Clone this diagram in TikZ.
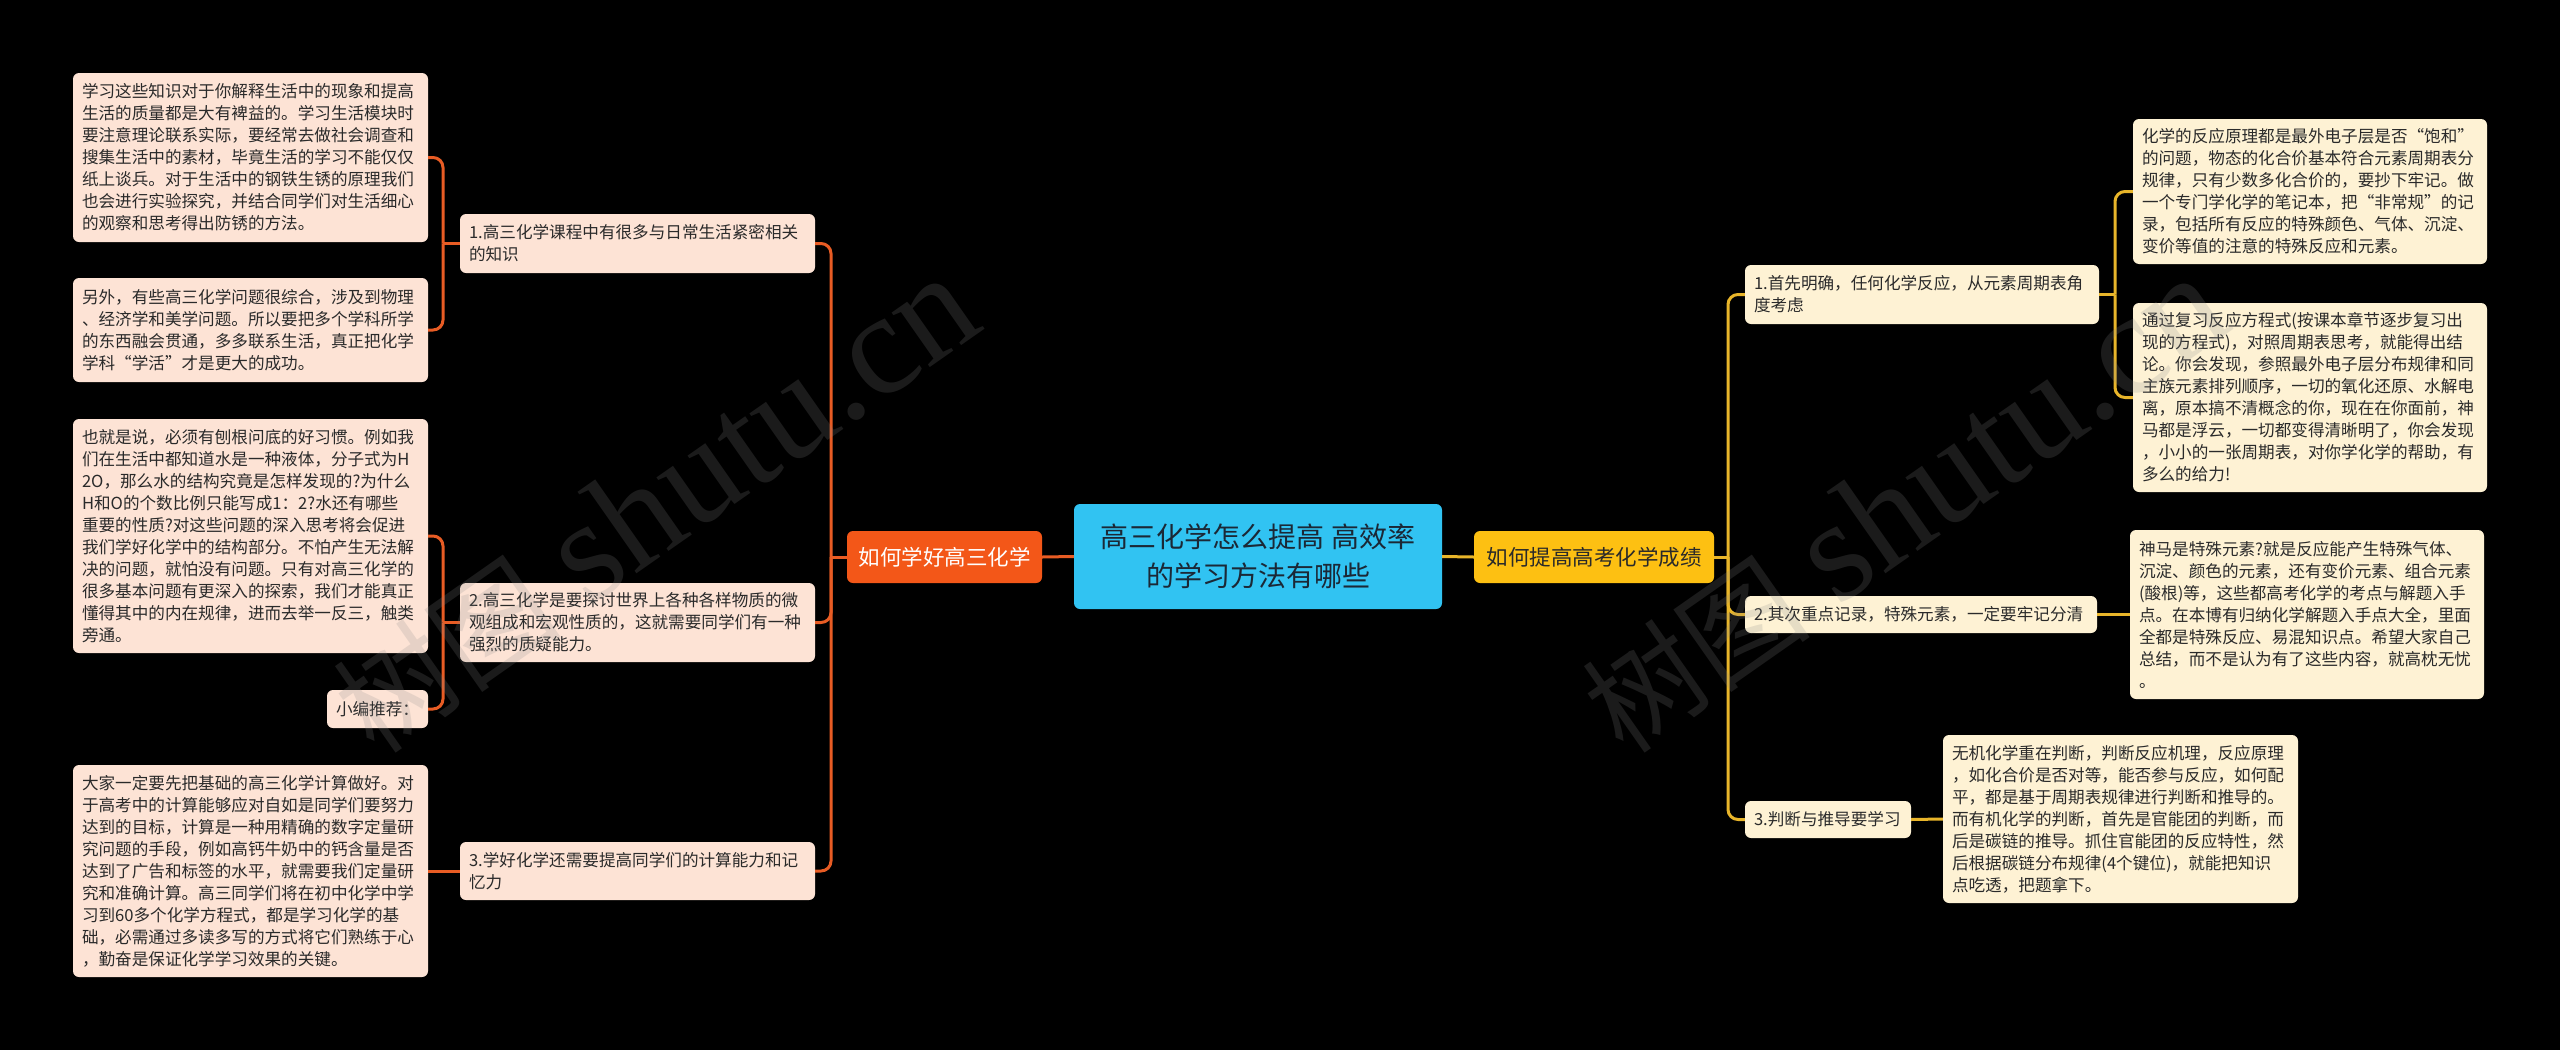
\documentclass[tikz,border=0pt]{standalone}
\usepackage{fontspec}
\setmainfont{Noto Sans CJK SC}
\newfontfamily\wmserif{Liberation Serif}
\definecolor{bgc}{HTML}{000000}
\definecolor{cfill}{HTML}{31C3F2}
\definecolor{ctext}{HTML}{1B2836}
\definecolor{lmfill}{HTML}{F35718}
\definecolor{rmfill}{HTML}{FDC012}
\definecolor{lfill}{HTML}{FDE3D5}
\definecolor{rfill}{HTML}{FEF2D4}
\definecolor{btext}{HTML}{2A2A2A}
\definecolor{lline}{HTML}{E85C24}
\definecolor{rline}{HTML}{E8B52A}
\definecolor{wmc}{HTML}{8A8A8A}
\tikzset{
  basebox/.style={rectangle, rounded corners=6pt, inner xsep=9pt, inner ysep=0pt, align=left, text=btext,
    font=\fontsize{16.6}{22}\selectfont},
  lbox/.style={basebox, fill=lfill},
  rbox/.style={basebox, fill=rfill},
  lconn/.style={draw=lline, line width=3pt, rounded corners=10pt},
  rconn/.style={draw=rline, line width=3pt, rounded corners=10pt},
  wm/.style={text=wmc, opacity=0.2, rotate=35, inner sep=0pt}
}
\begin{document}
\begin{tikzpicture}[x=1pt,y=-1pt]
\useasboundingbox (0,0) rectangle (2560,1050);
\fill[bgc] (0,0) rectangle (2560,1050);

% center
\node[rectangle, rounded corners=6pt, fill=cfill, text=ctext, minimum width=368pt, minimum height=105pt, align=center,
  font=\fontsize{28}{39}\selectfont] (C) at (1258,556.5) {高三化学怎么提高 高效率\\的学习方法有哪些};

% main branches
\node[rectangle, rounded corners=6pt, fill=lmfill, text=white, minimum width=195pt, minimum height=52pt,
  font=\fontsize{21.5}{26}\selectfont] (LM) at (944.5,557) {如何学好高三化学};
\node[rectangle, rounded corners=6pt, fill=rmfill, text=btext, minimum width=240pt, minimum height=52pt,
  font=\fontsize{21.5}{26}\selectfont] (RM) at (1594,557) {如何提高高考化学成绩};

% left branches
\node[lbox, text width=337pt, minimum height=59pt] (L1) at (637.5,243.5) {1.高三化学课程中有很多与日常生活紧密相关\\的知识};
\node[lbox, text width=337pt, minimum height=79pt] (L2) at (637.5,622.5) {2.高三化学是要探讨世界上各种各样物质的微\\观组成和宏观性质的，这就需要同学们有一种\\强烈的质疑能力。};
\node[lbox, text width=337pt, minimum height=58pt] (L3) at (637.5,871) {3.学好化学还需要提高同学们的计算能力和记\\忆力};

% left leaves
\node[lbox, text width=337pt, minimum height=169pt] (LL1) at (250.5,157.5) {学习这些知识对于你解释生活中的现象和提高\\生活的质量都是大有裨益的。学习生活模块时\\要注意理论联系实际，要经常去做社会调查和\\搜集生活中的素材，毕竟生活的学习不能仅仅\\纸上谈兵。对于生活中的钢铁生锈的原理我们\\也会进行实验探究，并结合同学们对生活细心\\的观察和思考得出防锈的方法。};
\node[lbox, text width=337pt, minimum height=104pt] (LL2) at (250.5,330) {另外，有些高三化学问题很综合，涉及到物理\\、经济学和美学问题。所以要把多个学科所学\\的东西融会贯通，多多联系生活，真正把化学\\学科“学活”才是更大的成功。};
\node[lbox, text width=337pt, minimum height=234pt] (LL3) at (250.5,536) {也就是说，必须有刨根问底的好习惯。例如我\\们在生活中都知道水是一种液体，分子式为H\\2O，那么水的结构究竟是怎样发现的?为什么\\H和O的个数比例只能写成1：2?水还有哪些\\重要的性质?对这些问题的深入思考将会促进\\我们学好化学中的结构部分。不怕产生无法解\\决的问题，就怕没有问题。只有对高三化学的\\很多基本问题有更深入的探索，我们才能真正\\懂得其中的内在规律，进而去举一反三，触类\\旁通。};
\node[lbox, text width=83pt, minimum height=38pt] (LL4) at (377.5,709) {小编推荐：};
\node[lbox, text width=337pt, minimum height=212pt] (LL5) at (250.5,871) {大家一定要先把基础的高三化学计算做好。对\\于高考中的计算能够应对自如是同学们要努力\\达到的目标，计算是一种用精确的数字定量研\\究问题的手段，例如高钙牛奶中的钙含量是否\\达到了广告和标签的水平，就需要我们定量研\\究和准确计算。高三同学们将在初中化学中学\\习到60多个化学方程式，都是学习化学的基\\础，必需通过多读多写的方式将它们熟练于心\\，勤奋是保证化学学习效果的关键。};

% right branches
\node[rbox, text width=336pt, minimum height=59pt] (R1) at (1922,294.5) {1.首先明确，任何化学反应，从元素周期表角\\度考虑};
\node[rbox, text width=334pt, minimum height=37pt] (R2) at (1921,614.5) {2.其次重点记录，特殊元素，一定要牢记分清};
\node[rbox, text width=148pt, minimum height=37pt] (R3) at (1828,819.5) {3.判断与推导要学习};

% right leaves
\node[rbox, text width=336pt, minimum height=145pt] (RL1) at (2310,191.5) {化学的反应原理都是最外电子层是否“饱和”\\的问题，物态的化合价基本符合元素周期表分\\规律，只有少数多化合价的，要抄下牢记。做\\一个专门学化学的笔记本，把“非常规”的记\\录，包括所有反应的特殊颜色、气体、沉淀、\\变价等值的注意的特殊反应和元素。};
\node[rbox, text width=336pt, minimum height=189pt] (RL2) at (2310,397.5) {通过复习反应方程式(按课本章节逐步复习出\\现的方程式)，对照周期表思考，就能得出结\\论。你会发现，参照最外电子层分布规律和同\\主族元素排列顺序，一切的氧化还原、水解电\\离，原本搞不清概念的你，现在在你面前，神\\马都是浮云，一切都变得清晰明了，你会发现\\，小小的一张周期表，对你学化学的帮助，有\\多么的给力!};
\node[rbox, text width=336pt, minimum height=169pt] (RL3) at (2307,614.5) {神马是特殊元素?就是反应能产生特殊气体、\\沉淀、颜色的元素，还有变价元素、组合元素\\(酸根)等，这些都高考化学的考点与解题入手\\点。在本博有归纳化学解题入手点大全，里面\\全都是特殊反应、易混知识点。希望大家自己\\总结，而不是认为有了这些内容，就高枕无忧\\。};
\node[rbox, text width=337pt, minimum height=168pt] (RL4) at (2120.5,819) {无机化学重在判断，判断反应机理，反应原理\\，如化合价是否对等，能否参与反应，如何配\\平，都是基于周期表规律进行判断和推导的。\\而有机化学的判断，首先是官能团的判断，而\\后是碳链的推导。抓住官能团的反应特性，然\\后根据碳链分布规律(4个键位)，就能把知识\\点吃透，把题拿下。};

% junction coordinates
\coordinate (lt) at (831,557);
\coordinate (lb1) at (443,243.5);
\coordinate (lb2) at (443,622.5);
\coordinate (rt) at (1728,557);
\coordinate (rb1) at (2115,294.5);

% center connectors
\draw[lconn] (C.west) -- (LM.east);
\draw[rconn] (C.east) -- (RM.west);

% left connectors
\draw[lconn] (LM.west) -- (lt);
\draw[lconn] (L1.east) -| (lt);
\draw[lconn] (L2.east) -| (lt);
\draw[lconn] (L3.east) -| (lt);
\draw[lconn] (L1.west) -- (lb1);
\draw[lconn] (LL1.east) -| (lb1);
\draw[lconn] (LL2.east) -| (lb1);
\draw[lconn] (L2.west) -- (lb2);
\draw[lconn] (LL3.east) -| (lb2);
\draw[lconn] (LL4.east) -| (lb2);
\draw[lconn] (L3.west) -- (LL5.east);

% right connectors
\draw[rconn] (RM.east) -- (rt);
\draw[rconn] (R1.west) -| (rt);
\draw[rconn] (R2.west) -| (rt);
\draw[rconn] (R3.west) -| (rt);
\draw[rconn] (R1.east) -- (rb1);
\draw[rconn] (RL1.west) -| (rb1);
\draw[rconn] (RL2.west) -| (rb1);
\draw[rconn] (R2.east) -- (RL3.west);
\draw[rconn] (R3.east) -- (RL4.west);

% watermarks
\node[wm] (wm1) at (655,505) {{\fontsize{115}{120}\selectfont 树图}\hspace{30pt}{\wmserif\fontsize{145}{150}\selectfont shutu.cn}};
\node[wm] (wm2) at (1904,505) {{\fontsize{115}{120}\selectfont 树图}\hspace{30pt}{\wmserif\fontsize{145}{150}\selectfont shutu.cn}};
\end{tikzpicture}
\end{document}
